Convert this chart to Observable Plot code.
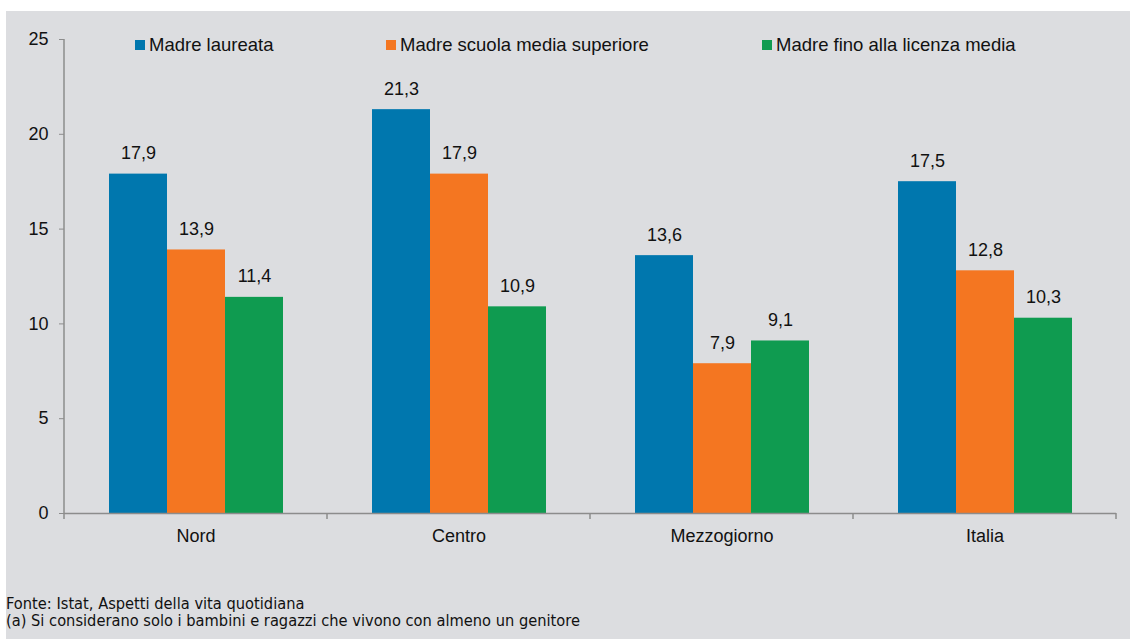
<!DOCTYPE html>
<html><head><meta charset="utf-8">
<script src="https://cdn.jsdelivr.net/npm/d3@7"></script>
<script src="https://cdn.jsdelivr.net/npm/@observablehq/plot@0.6"></script>
<style>
body{margin:0;background:#fff;}
#panel{position:absolute;left:6px;top:11px;width:1124px;height:628px;background:#dcdde0;font-family:"Liberation Sans",Arial,sans-serif;overflow:hidden;}
#chart{position:absolute;left:0;top:0;}
#legend{position:absolute;left:0;top:23px;width:1124px;height:22px;font-size:18.5px;line-height:22px;color:#111;}
.item{position:absolute;top:0;display:flex;align-items:center;white-space:nowrap;}
.sw{width:10px;height:10px;margin-right:4px;display:inline-block;}
#foot{position:absolute;left:0;top:584px;font-family:"Liberation Sans Narrow","DejaVu Sans Condensed",sans-serif;font-stretch:condensed;font-size:16.3px;line-height:17px;color:#111;white-space:nowrap;}
</style></head><body>
<div id="panel"><div id="chart"></div><div id="legend"></div><div id="foot"></div></div>
<script>
const regions = ["Nord", "Centro", "Mezzogiorno", "Italia"];
const series = ["Madre laureata", "Madre scuola media superiore", "Madre fino alla licenza media"];
const laureata = [17.9, 21.3, 13.6, 17.5];
const superiore = [13.9, 17.9, 7.9, 12.8];
const licenza = [11.4, 10.9, 9.1, 10.3];
const colors = ["#0077ae", "#f47621", "#0f9b50"];
const yTicks = [0, 5, 10, 15, 20, 25];
const notes = ["Fonte: Istat, Aspetti della vita quotidiana", "(a) Si considerano solo i bambini e ragazzi che vivono con almeno un genitore"];
const legendLeft = [129, 380, 756];

const valuesBySeries = [laureata, superiore, licenza];
const data = [];
regions.forEach((r, i) => series.forEach((s, j) => data.push({region: r, series: s, value: valuesBySeries[j][i]})));
const fmt = v => v.toFixed(1).replace(".", ",");

const chart = Plot.plot({
  width: 1124, height: 560,
  marginLeft: 57, marginRight: 14, marginTop: 28, marginBottom: 58,
  style: {background: "transparent", fontSize: "18px", fontFamily: "'Liberation Sans', Arial, sans-serif", color: "#111", overflow: "visible"},
  fx: {domain: regions, padding: 0, label: null},
  x: {domain: series, paddingInner: 0, paddingOuter: 0.75, axis: null},
  y: {domain: [0, 25], label: null},
  color: {domain: series, range: colors},
  marks: [
    Plot.axisY({ticks: yTicks, tickSize: 5, tickPadding: 11, stroke: "#8c8c8c", tickFormat: d => String(d), label: null}),
    Plot.axisFx({anchor: "bottom", tickSize: 0, tickPadding: 16, label: null}),
    Plot.barY(data, {fx: "region", x: "series", y: "value", fill: "series"}),
    Plot.text(data, {fx: "region", x: "series", y: "value", text: d => fmt(d.value), lineAnchor: "bottom", dy: -15, fill: "#111"}),
    Plot.ruleY([0], {stroke: "#8c8c8c", strokeWidth: 1.5})
  ]
});
document.getElementById("chart").appendChild(chart);

// axis line and boundary ticks from the library's scales
const fxs = chart.scale("fx"), ys = chart.scale("y");
const svg = d3.select(chart);
const x0 = fxs.apply(regions[0]);
const bounds = regions.map(r => fxs.apply(r)).concat([fxs.apply(regions[regions.length - 1]) + fxs.bandwidth]);
const yb = ys.apply(0), yt = ys.apply(25);
const g = svg.append("g").attr("stroke", "#8c8c8c").attr("stroke-width", 1.5);
g.append("line").attr("x1", x0).attr("x2", x0).attr("y1", yt).attr("y2", yb);
bounds.forEach(b => g.append("line").attr("x1", b).attr("x2", b).attr("y1", yb).attr("y2", yb + 6));

const legend = document.getElementById("legend");
series.forEach((s, i) => {
  const it = document.createElement("div"); it.className = "item"; it.style.left = legendLeft[i] + "px";
  const sw = document.createElement("span"); sw.className = "sw"; sw.style.background = colors[i];
  it.appendChild(sw); it.appendChild(document.createTextNode(s));
  legend.appendChild(it);
});
const foot = document.getElementById("foot");
notes.forEach(n => { const d = document.createElement("div"); d.textContent = n; foot.appendChild(d); });
</script>
</body></html>
